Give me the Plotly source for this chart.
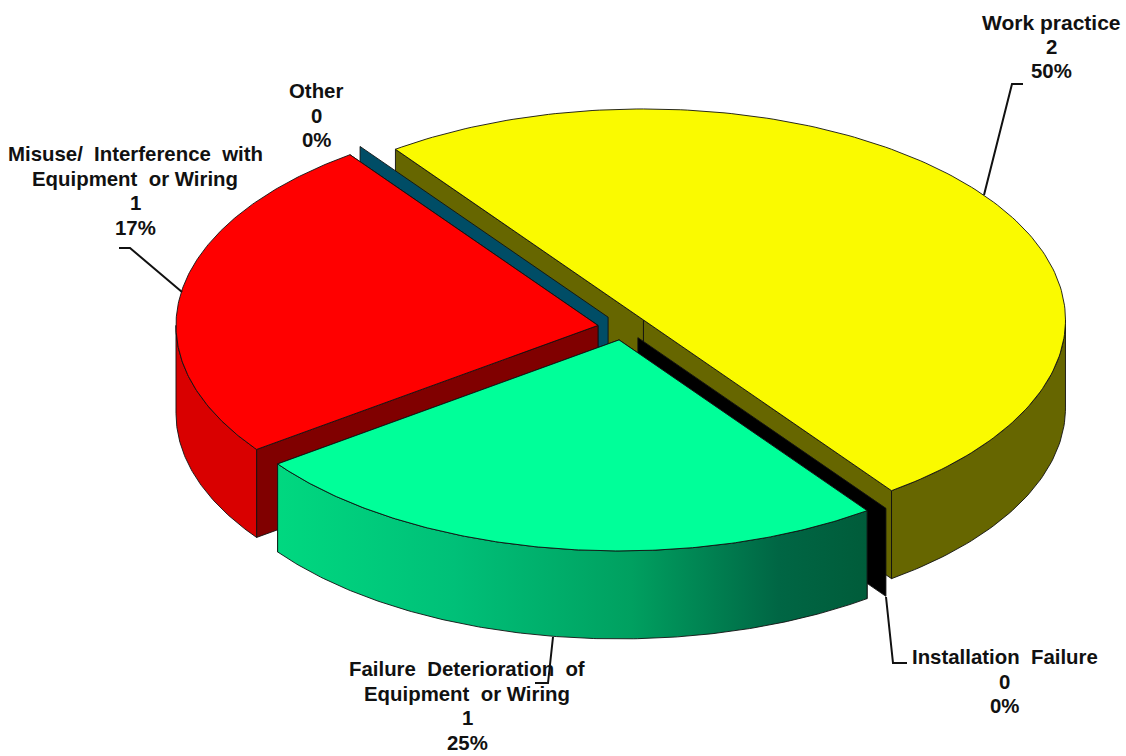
import numpy as np
import plotly.graph_objects as go

# ---- data ----
categories = ["Work practice", "Installation Failure", "Failure Deterioration of Equipment or Wiring",
              "Misuse/ Interference with Equipment or Wiring", "Other"]
counts = [2, 0, 1, 1, 0]
percent_labels = ["50%", "0%", "25%", "17%", "0%"]

label_lines = [
    ["Work practice"],
    ["Installation \u00a0Failure"],
    ["Failure \u00a0Deterioration \u00a0of", "Equipment \u00a0or Wiring"],
    ["Misuse/ \u00a0Interference \u00a0with", "Equipment \u00a0or Wiring"],
    ["Other"],
]

top_colors = ["#FAFA00", "#000000", "#00FF99", "#FF0000", "#004D66"]
face_colors = ["#666600", "#000000", "#005C3A", "#800000", "#004D66"]
wall_colors = ["#666600", "#000000", None, "#D90000", "#004D66"]
draw_order = [0, 4, 1, 3, 2]

# ---- projection of the pie on to the page ----
CX, CY = 623.0, 327.4
RX, RY = 422.0, 211.0
DEPTH = 88.0
EXPLODE = 0.06
START_DEG = 126.0
LINE = dict(color="#111111", width=0.9)

GREEN_WALL = [[0, "#00D880"], [0.3, "#00C078"], [0.6, "#00A060"], [0.85, "#006644"], [1, "#005C3A"]]

total = sum(counts)
sweeps = [360.0 * c / total for c in counts]
ends = START_DEG - np.cumsum(sweeps)
starts = ends + np.array(sweeps)


def project(deg, ox, oy, r=1.0):
    a = np.radians(deg)
    return ox + r * RX * np.cos(a), oy - r * RY * np.sin(a)


fig = go.Figure()


def poly(xs, ys, color, gradient=None):
    kw = dict(fillgradient=dict(type="horizontal", colorscale=gradient)) if gradient else dict(fillcolor=color)
    fig.add_trace(go.Scatter(x=list(xs), y=list(ys), mode="lines", fill="toself", line=LINE,
                             hoverinfo="skip", showlegend=False, **kw))


for i in draw_order:
    a0, a1 = starts[i], ends[i]
    mid = (a0 + a1) / 2
    ox, oy = project(mid, CX, CY, EXPLODE)
    # radial cut faces, the one further back first
    edges = (a0, a1) if sweeps[i] > 0 else (a0,)
    for edge in sorted(edges, key=lambda d: project(d, ox, oy)[1]):
        ex, ey = project(edge, ox, oy)
        poly([ox, ex, ex, ox, ox], [oy, ey, ey + DEPTH, oy + DEPTH, oy], face_colors[i])
    if sweeps[i] == 0:
        continue
    # outer wall: only the part facing the viewer
    arc = np.linspace(a0, a1, 181)
    front = arc[np.sin(np.radians(arc)) <= 0]
    if len(front) > 1:
        fx, fy = project(front, ox, oy)
        poly(np.r_[fx, fx[::-1], fx[0]], np.r_[fy, fy[::-1] + DEPTH, fy[0]], wall_colors[i],
             None if wall_colors[i] else GREEN_WALL)
    # top
    tx, ty = project(arc, ox, oy)
    poly(np.r_[ox, tx, ox], np.r_[oy, ty, oy], top_colors[i])

# ---- leader lines ----
leaders = [
    ([1023, 1012, 984], [84, 84, 195]),
    ([886, 893, 907], [597, 663, 663]),
    ([553, 548, 535], [637, 683, 683]),
    ([182, 130, 119], [292, 248, 248]),
]
for lx, ly in leaders:
    fig.add_trace(go.Scatter(x=lx, y=ly, mode="lines", line=dict(color="#111111", width=2),
                             hoverinfo="skip", showlegend=False))

# ---- labels ----
anchors = [(1051, 22), (1004.5, 657), (467, 669), (135, 154), (316, 91)]
LINE_STEP = 24.5
annotations = []
for i, (ax, ay) in enumerate(anchors):
    lines = label_lines[i] + [str(counts[i]), percent_labels[i]]
    for k, text in enumerate(lines):
        size = 21 if text == "Work practice" else 20.4
        annotations.append(dict(x=ax, y=ay + k * LINE_STEP, text=f"<b>{text}</b>", showarrow=False,
                                xanchor="center", yanchor="middle", xref="x", yref="y",
                                font=dict(family="Liberation Sans, Arial, sans-serif", size=size, color="#111111")))

fig.update_layout(
    width=1126, height=756, margin=dict(l=0, r=0, t=0, b=0),
    paper_bgcolor="white", plot_bgcolor="white", showlegend=False,
    xaxis=dict(range=[0, 1126], visible=False, fixedrange=True),
    yaxis=dict(range=[756, 0], visible=False, fixedrange=True),
    annotations=annotations,
)
fig.write_html("out.html", config={"displayModeBar": False},
               post_script="document.body.style.margin='0';document.documentElement.style.overflow='hidden';")
